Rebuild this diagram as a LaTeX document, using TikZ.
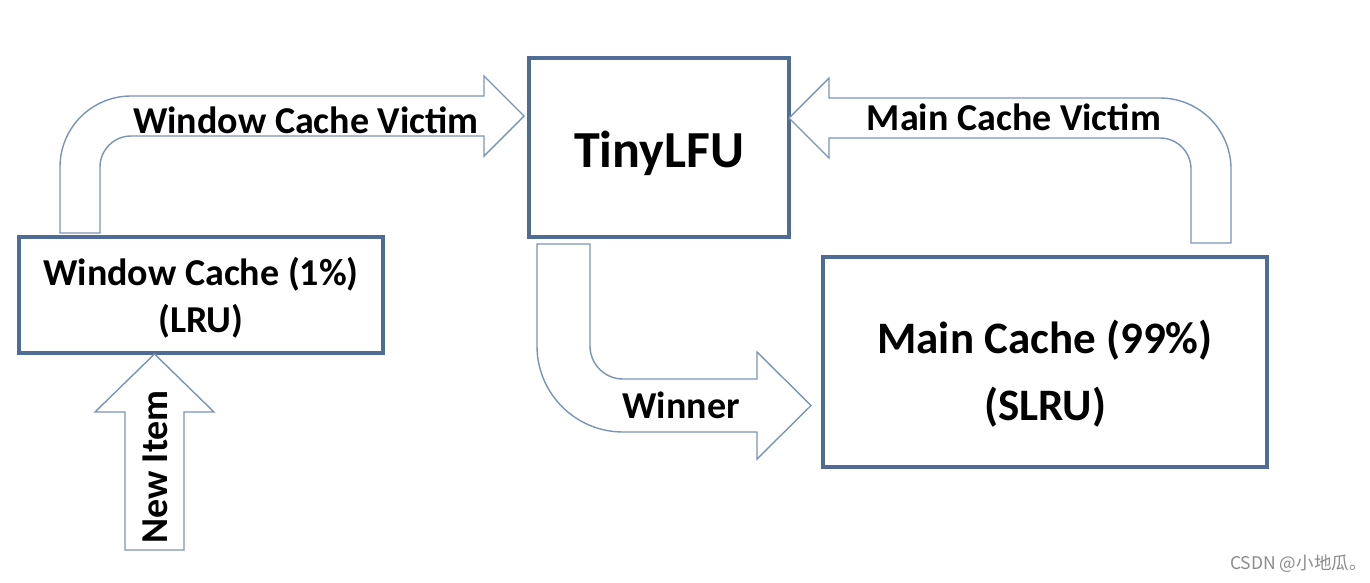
\documentclass[tikz,border=0pt]{standalone}
\usepackage{fontspec}
\setmainfont{Carlito}
\newfontfamily\cjk{Noto Sans CJK SC}
\definecolor{boxblue}{RGB}{78,108,150}
\definecolor{arrblue}{RGB}{122,148,185}
\definecolor{wmgray}{RGB}{140,140,140}
\begin{document}
\begin{tikzpicture}[x=1pt,y=-1pt,
  cachebox/.style={draw=boxblue,line width=3.4pt,fill=white,inner sep=0pt},
  blockarrow/.style={draw=arrblue,line width=1.4pt,fill=white,line join=miter},
  lbl/.style={font=\fontsize{38}{45}\selectfont\bfseries,inner sep=0pt,anchor=base},
  biglbl/.style={font=\fontsize{45}{54}\selectfont\bfseries,inner sep=0pt,anchor=base}]
\useasboundingbox (0,0) rectangle (1370,582);
\fill[white] (0,0) rectangle (1370,582);
% boxes
\node[cachebox,minimum width=364pt,minimum height=116pt] (win) at (201,295) {};
\node[cachebox,minimum width=260pt,minimum height=179pt] (tiny) at (659,147.5) {};
\node[cachebox,minimum width=444pt,minimum height=210pt] (main) at (1045,362) {};
% box texts
\node[lbl] (wt1) at (201,285) {Window Cache (1\%)};
\node[lbl] (wt2) at (201,332) {(LRU)};
\node[font=\fontsize{52}{60}\selectfont\bfseries,inner sep=0pt,anchor=base] (tt) at (659,167) {TinyLFU};
\node[biglbl] (mt1) at (1045,353) {Main Cache (99\%)};
\node[biglbl] (mt2) at (1045,420) {(SLRU)};
% window cache victim arrow
\draw[blockarrow] (60,233) -- (60,167) .. controls (60,127.8) and (91.8,96) .. (131,96)
  -- (484,96) -- (484,76) -- (524,116) -- (484,156) -- (484,136) -- (131,136)
  .. controls (113.9,136) and (100,149.9) .. (100,167) -- (100,233) -- cycle;
\node[lbl] (wcv) at (306,133) {Window Cache Victim};
% main cache victim arrow
\draw[blockarrow] (789,118) -- (829,78) -- (829,98) -- (1160,98)
  .. controls (1199.2,98) and (1231,129.8) .. (1231,169) -- (1231,243) -- (1191,243) -- (1191,169)
  .. controls (1191,151.9) and (1177.1,138) .. (1160,138) -- (829,138) -- (829,158) -- cycle;
\node[lbl] (mcv) at (1014,130) {Main Cache Victim};
% winner arrow
\draw[blockarrow] (537,244) -- (537,346) .. controls (537,393.5) and (575.5,432) .. (623,432)
  -- (757,432) -- (757,459) -- (811,405.5) -- (757,352) -- (757,379) -- (623,379)
  .. controls (604.8,379) and (590,364.2) .. (590,346) -- (590,244) -- cycle;
\node[lbl] (win2) at (681,418) {Winner};
% new item arrow
\draw[blockarrow] (125,550) -- (125,412) -- (95,412) -- (154.5,354) -- (214,412) -- (184,412) -- (184,550) -- cycle;
\node[lbl,rotate=90] (ni) at (167,467) {New Item};
% watermark
\node[font=\cjk\fontsize{17.5}{21}\selectfont,text=wmgray,inner sep=0pt,anchor=base west] (wm) at (1230,569) {CSDN @小地瓜。};
\end{tikzpicture}
\end{document}
